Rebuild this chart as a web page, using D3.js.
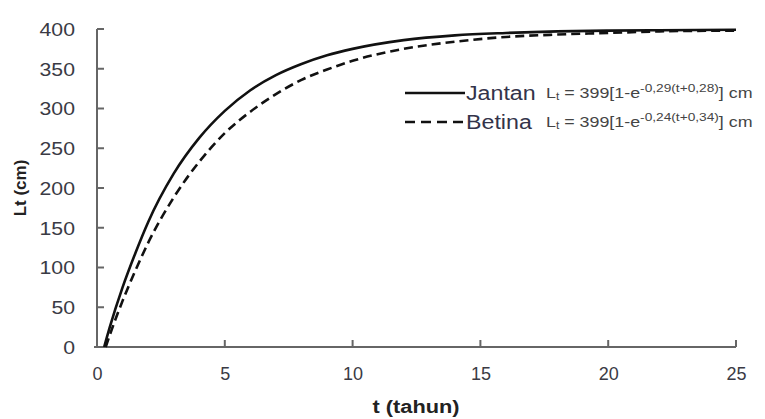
<!DOCTYPE html>
<html><head><meta charset="utf-8">
<script src="https://cdn.jsdelivr.net/npm/d3@7"></script>
<style>body{margin:0;background:#fff}svg{display:block}text{font-family:"Liberation Sans",Arial,sans-serif}</style>
</head><body><svg id="c" width="765" height="419"></svg>
<script>
const ageT = [0.28, 0.5, 1, 1.5, 2, 3, 4, 5, 6, 7, 8, 9, 10, 12, 14, 16, 18, 20, 22, 25];
const jantanL = [0, 25, 75, 118, 157, 218, 263, 297, 323, 342, 356, 367, 375, 386, 392, 395, 397, 398, 398.5, 399];
const betinaT = [0.34, 0.5, 1, 1.5, 2, 3, 4, 5, 6, 7, 8, 9, 10, 12, 14, 16, 18, 20, 22, 25];
const betinaL = [0, 15, 58, 96, 131, 188, 233, 269, 296, 318, 336, 349, 360, 375, 384, 390, 393, 395, 397, 398];
const xTicks = [0, 5, 10, 15, 20, 25];
const yTicks = [0, 50, 100, 150, 200, 250, 300, 350, 400];
const seriesNames = ["Jantan", "Betina"];
const seriesK = ["-0,29(t+0,28)", "-0,24(t+0,34)"];

const svg = d3.select("#c");
const x = d3.scaleLinear().domain([0, 25]).range([97, 736]);
const y = d3.scaleLinear().domain([0, 400]).range([347, 29]);
const axisCol = "#666";

function stretch(sel, f) {
  sel.each(function () {
    const w = this.getComputedTextLength();
    d3.select(this).attr("textLength", w * f).attr("lengthAdjust", "spacingAndGlyphs");
  });
}

const gx = svg.append("g").attr("transform", `translate(0,${y(0)})`)
  .call(d3.axisBottom(x).tickValues(xTicks).tickSize(0).tickPadding(20).tickFormat(d3.format("d")));
const gy = svg.append("g").attr("transform", `translate(${x(0)},0)`)
  .call(d3.axisLeft(y).tickValues(yTicks).tickSize(0).tickPadding(22).tickFormat(d3.format("d")));
[gx, gy].forEach(g => {
  g.select(".domain").attr("stroke", axisCol).attr("stroke-width", 2);
  g.selectAll(".tick text").attr("fill", "#3a3a44").attr("font-size", 18);
});
gx.select(".domain").attr("d", `M${x(0) - 3},0H${x(25)}`);
gy.select(".domain").attr("d", `M0,${y(400)}V${y(0)}`);
stretch(gy.selectAll(".tick text"), 1.18);
gy.selectAll(".tick text").attr("dy", "0.36em");

// inward tick marks
svg.append("g").selectAll("line").data(xTicks.filter(d => d > 0)).join("line")
  .attr("x1", d => x(d)).attr("x2", d => x(d)).attr("y1", y(0)).attr("y2", y(0) - 7)
  .attr("stroke", axisCol).attr("stroke-width", 2);
svg.append("g").selectAll("line").data(yTicks.filter(d => d > 0)).join("line")
  .attr("x1", x(0)).attr("x2", x(0) + 7).attr("y1", d => y(d)).attr("y2", d => y(d))
  .attr("stroke", axisCol).attr("stroke-width", 2);

const line = d3.line().x(d => x(d[0])).y(d => y(d[1])).curve(d3.curveMonotoneX);
svg.append("path").datum(ageT.map((t, i) => [t, jantanL[i]]))
  .attr("d", line).attr("fill", "none").attr("stroke", "#111").attr("stroke-width", 2.6);
svg.append("path").datum(betinaT.map((t, i) => [t, betinaL[i]]))
  .attr("d", line).attr("fill", "none").attr("stroke", "#111").attr("stroke-width", 2.6).attr("stroke-dasharray", "9,5");

const xt = svg.append("text").attr("x", 416).attr("y", 413).attr("text-anchor", "middle")
  .attr("font-size", 18).attr("font-weight", "bold").attr("fill", "#222").text("t (tahun)");
xt.attr("textLength", 87).attr("lengthAdjust", "spacingAndGlyphs");
svg.append("text").attr("transform", "translate(26,188) rotate(-90)").attr("text-anchor", "middle")
  .attr("font-size", 17).attr("font-weight", "bold").attr("fill", "#222").text("Lt (cm)");

const legY = [93, 122];
const legDash = [null, "10,6"];
seriesNames.forEach((name, i) => {
  const yy = legY[i];
  const g = svg.append("g");
  g.append("line").attr("x1", 405).attr("x2", 465).attr("y1", yy).attr("y2", yy)
    .attr("stroke", "#111").attr("stroke-width", 2.6).attr("stroke-dasharray", legDash[i]);
  const nt = g.append("text").attr("x", 466).attr("y", yy + 7).attr("font-size", 20).attr("fill", "#33334a").text(name);
  stretch(nt, 1.16);
  const parts = [
    {t: "L", s: 15, dy: 0},
    {t: "t", s: 10, dy: 2},
    {t: " = 399[1-e", s: 15, dy: 0},
    {t: seriesK[i], s: 11.5, dy: -6},
    {t: "] cm", s: 15, dy: 0}
  ];
  const f = 1.19;
  let cx = 546;
  parts.forEach(p => {
    const te = g.append("text").attr("x", cx).attr("y", yy + 5 + p.dy).attr("font-size", p.s)
      .attr("fill", "#444").attr("xml:space", "preserve").style("white-space", "pre").text(p.t);
    const w = te.node().getComputedTextLength();
    te.attr("textLength", w * f).attr("lengthAdjust", "spacingAndGlyphs");
    cx += w * f;
  });
});
</script></body></html>
